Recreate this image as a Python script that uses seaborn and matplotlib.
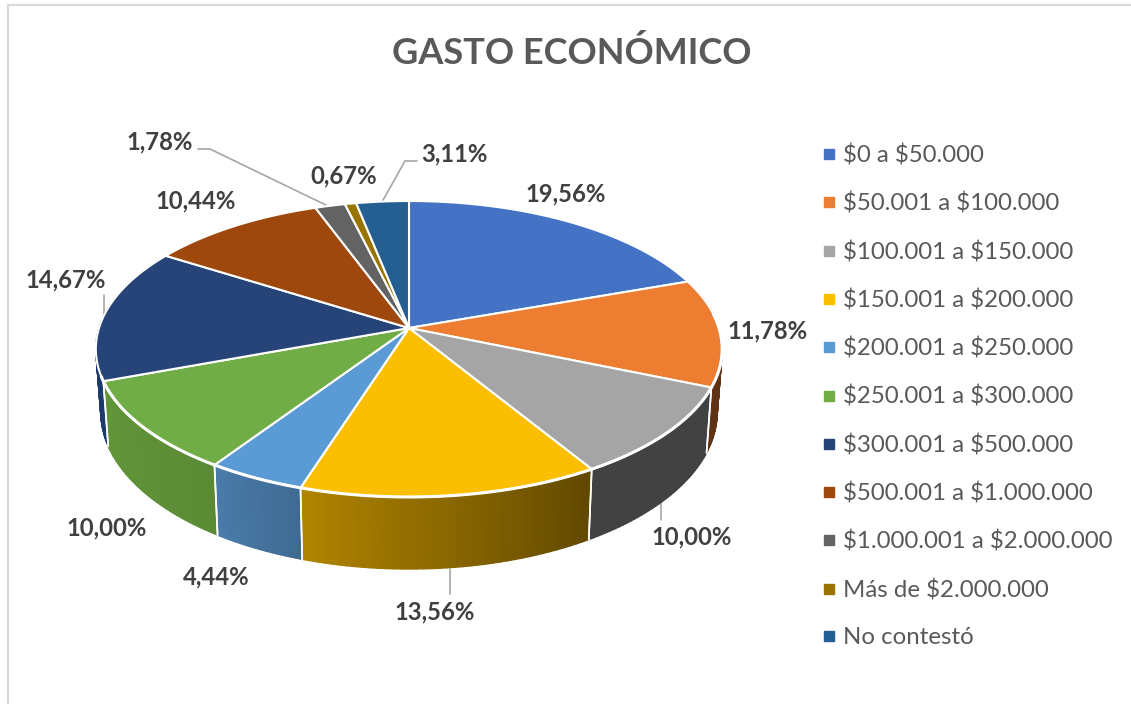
import numpy as np
import matplotlib
matplotlib.use('Agg')
import matplotlib.pyplot as plt
from matplotlib.lines import Line2D
import seaborn as sns

# Donnees du graphique
categorias = ['$0 a $50.000', '$50.001 a $100.000', '$100.001 a $150.000', '$150.001 a $200.000',
              '$200.001 a $250.000', '$250.001 a $300.000', '$300.001 a $500.000', '$500.001 a $1.000.000',
              '$1.000.001 a $2.000.000', 'Más de $2.000.000', 'No contestó']
porcentajes = [19.56, 11.78, 10.00, 13.56, 4.44, 10.00, 14.67, 10.44, 1.78, 0.67, 3.11]
etiquetas = ['19,56%', '11,78%', '10,00%', '13,56%', '4,44%', '10,00%', '14,67%', '10,44%', '1,78%', '0,67%', '3,11%']
colores = ['#4472C4', '#ED7D31', '#A5A5A5', '#FBBE00', '#5B9BD5', '#70AD47',
           '#264478', '#9E480E', '#636363', '#997300', '#255E91']
# couleur du flanc : gauche, droite (vu de face)
flanco = [('#2E4E87', '#2E4E87'), ('#5F3214', '#5F3214'), ('#424242', '#424242'), ('#B08400', '#614900'),
          ('#4A7BAA', '#3F6A92'), ('#62963A', '#5B8A35'), ('#1C3A6C', '#1C3A6C'), ('#6E320A', '#6E320A'),
          ('#444444', '#444444'), ('#6B5000', '#6B5000'), ('#1A4266', '#1A4266')]

# Position des textes (pixels)
pos_etiquetas = [(566, 194), (768, 331), (692, 537), (435, 612), (216, 577), (107, 528),
                 (66, 280), (196, 201), (160, 142), (344, 176), (454, 154)]
lineas_guia = [[(661, 502), (661, 520)], [(450, 569), (450, 594)], [(104, 295), (104, 316)],
               [(198, 149), (210, 149), (330, 207)], [(405, 161), (417, 161)], [(405, 161), (382, 202)]]

sns.set_theme(style='white')
plt.rcParams['font.family'] = ['Lato', 'DejaVu Sans']
plt.rcParams['text.parse_math'] = False

# Perspective du disque
cx, cy = 409, 328
rx, ry, k = 310, 145, 0.1419
alto, enc = 61.8, 0.984


def proyecta(ang, r=1.0, abajo=False):
    u, v = r * np.sin(ang), r * np.cos(ang)
    w = 1 + k * v
    x, y = rx * u / w, -ry * v / w
    if abajo:
        x = x * enc
        y = y + alto / w
    return cx + x, cy + y


fig = plt.figure(figsize=(11.31, 7.04), dpi=100)
ax = fig.add_axes([0, 0, 1, 1])
ax.set_xlim(0, 1131)
ax.set_ylim(704, 0)
ax.axis('off')

# cadre
ax.plot([8, 8, 1131], [704, 5, 5], color='#D9D9D9', lw=1.5)

fracs = np.array(porcentajes) / sum(porcentajes)
bordes = np.concatenate([[0], np.cumsum(fracs)]) * 2 * np.pi

# flancs
for i in range(len(porcentajes)):
    a0, a1 = bordes[i], bordes[i + 1]
    # seulement la moitie avant
    a0v, a1v = max(a0, np.pi / 2 - 0.25), min(a1, 3 * np.pi / 2 + 0.25)
    if a1v <= a0v:
        continue
    angs = np.linspace(a0v, a1v, 40)
    tonos = sns.blend_palette([flanco[i][1], flanco[i][0]], len(angs) - 1)
    for j in range(len(angs) - 1):
        xa, ya = proyecta(angs[j:j + 2])
        xb, yb = proyecta(angs[j:j + 2][::-1], abajo=True)
        ax.fill(np.r_[xa, xb], np.r_[ya, yb], color=tonos[j], lw=1.0, zorder=2)
    for a in (a0, a1):
        if np.cos(a) < 0.2:
            xa, ya = proyecta(a)
            xb, yb = proyecta(a, abajo=True)
            ax.plot([xa, xb], [ya, yb], color='white', lw=1.2, zorder=3)

# dessus
for i in range(len(porcentajes)):
    angs = np.linspace(bordes[i], bordes[i + 1], 80)
    x, y = proyecta(angs)
    ax.fill(np.r_[cx, x], np.r_[cy, y], facecolor=colores[i], edgecolor='white', lw=1.5,
            joinstyle='round', zorder=4)

# bord blanc plus epais devant
x, y = proyecta(np.linspace(bordes[1] + 0.25, bordes[6] + 0.03, 200))
ax.plot(x, y, color='white', lw=2.2, zorder=5)

# lignes de rappel
for linea in lineas_guia:
    ax.plot([p[0] for p in linea], [p[1] for p in linea], color='#A6A6A6', lw=1.2, zorder=1)

for txt, p in zip(etiquetas, pos_etiquetas):
    ax.text(p[0], p[1], txt, fontsize=17.2, fontweight='bold', color='#404040',
            ha='center', va='center', zorder=6)

ax.text(572, 53, 'GASTO ECONÓMICO', fontsize=26, fontweight='bold', color='#595959', ha='center', va='center')

handles = [Line2D([], [], ls='none', marker='s', markersize=6.5, color=c) for c in colores]
ley = ax.legend(handles, categorias, loc='upper left', bbox_to_anchor=(822, 144.5),
                bbox_transform=ax.transData, frameon=False, fontsize=17.3, labelcolor='#595959',
                labelspacing=1.094, handlelength=0.6, handletextpad=0.27, borderpad=0, borderaxespad=0)

plt.savefig('out.png', dpi=100)
